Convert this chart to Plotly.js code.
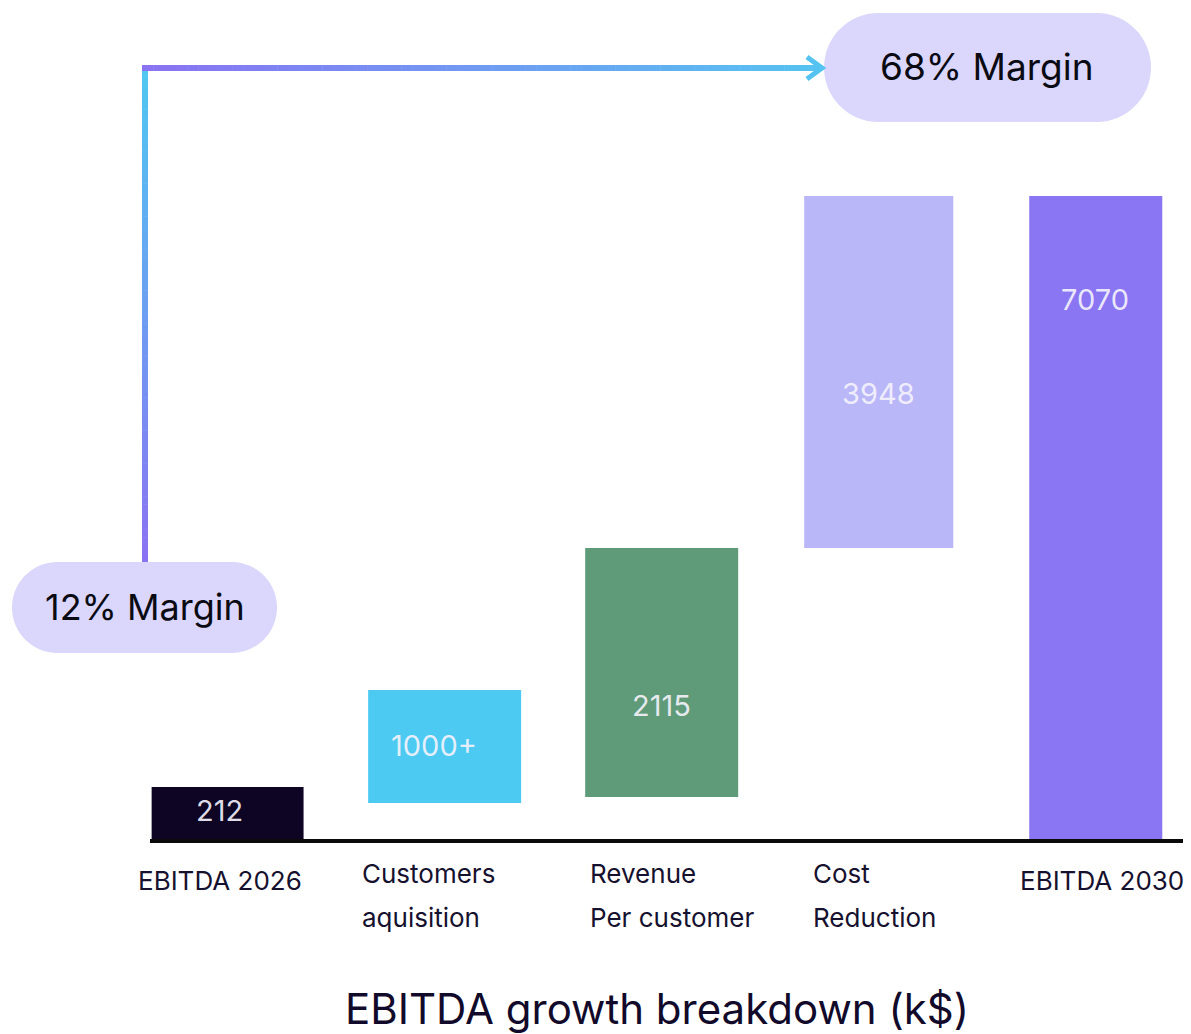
<!DOCTYPE html>
<html><head><meta charset="utf-8">
<script src="https://cdn.plot.ly/plotly-3.0.1.min.js"></script>
<style>html,body{margin:0;padding:0;background:#fff}#chart{width:1191px;height:1034px}</style>
</head><body><div id="chart"></div>
<script>
// ---- data ----
const categories = ['EBITDA 2026', 'Customers<br>aquisition', 'Revenue<br>Per customer', 'Cost<br>Reduction', 'EBITDA 2030'];
const valueLabels = ['212', '1000+', '2115', '3948', '7070'];
const barBase = [0, 417, 482, 3212, 0];
const barTop = [592, 1655, 3212, 7070, 7070];
const marginLabels = ['12% Margin', '68% Margin'];
const chartTitle = 'EBITDA growth breakdown (k$)';

// ---- styling ----
const W = 1191, H = 1034;
const FONT = 'Inter, "Open Sans", sans-serif';
const barColors = ['#0e0524', '#4ccaf2', '#5f9b78', '#bab7f9', '#8a75f2'];
const barWidths = [0.70, 0.705, 0.705, 0.687, 0.613];
const xRange = [-1.0487, 4.4388];
const yRange = [-2115.5, 9218];
const unitPx = W / (xRange[1] - xRange[0]);
const valueShift = [-8, -11, 0, 0, -1];
const valueY = [810, 745, 705, 393, 299];
const labelShift = [-16, -8, 3, 7, -11];
const PILL = '#dad6fc';

const traces = [{
  type: 'bar', x: categories, y: barTop.map((t, i) => t - barBase[i]), base: barBase,
  width: barWidths, marker: {color: barColors, line: {width: 0}},
  hoverinfo: 'none', textposition: 'none', xaxis: 'x', yaxis: 'y', showlegend: false
}, {
  type: 'scatter', x: [0], y: [0], xaxis: 'x2', yaxis: 'y2', mode: 'markers',
  marker: {opacity: 0}, hoverinfo: 'none', showlegend: false
}];

function hex2rgb(h){return [1,3,5].map(k=>parseInt(h.substr(k,2),16));}
function mix(a,b,t){const A=hex2rgb(a),B=hex2rgb(b);return 'rgb('+A.map((v,i)=>Math.round(v+(B[i]-v)*t)).join(',')+')';}
function pill(x0,y0,x1,y1){
  const r=(y1-y0)/2, k=0.5523*r;
  return `M${x0+r},${y0} L${x1-r},${y0} C${x1-r+k},${y0} ${x1},${y0+r-k} ${x1},${y0+r} C${x1},${y0+r+k} ${x1-r+k},${y1} ${x1-r},${y1} L${x0+r},${y1} C${x0+r-k},${y1} ${x0},${y0+r+k} ${x0},${y0+r} C${x0},${y0+r-k} ${x0+r-k},${y0} ${x0+r},${y0} Z`;
}

const shapes = [];
// pills
shapes.push({type:'path', xref:'x2', yref:'y2', path:pill(12,562,277,653), fillcolor:PILL, line:{width:0}, layer:'below'});
shapes.push({type:'path', xref:'x2', yref:'y2', path:pill(824,13,1151,122), fillcolor:PILL, line:{width:0}, layer:'below'});
// gradient connector
const CYAN = '#4fc8f1', PURP = '#8a72f2';
const N = 60;
for (let i=0;i<N;i++){
  const ya = 68 + (562-68)*i/N, yb = 68 + (562-68)*(i+1)/N + 0.5;
  shapes.push({type:'line', xref:'x2', yref:'y2', x0:145, x1:145, y0:ya, y1:Math.min(yb,562), line:{color:mix(CYAN,PURP,(i+0.5)/N), width:6}});
}
for (let i=0;i<N;i++){
  const xa = 142 + (818-142)*i/N, xb = 142 + (818-142)*(i+1)/N + 0.5;
  shapes.push({type:'line', xref:'x2', yref:'y2', x0:xa, x1:Math.min(xb,818), y0:68, y1:68, line:{color:mix(PURP,'#55c3f1',(i+0.5)/N), width:6}});
}
shapes.push({type:'path', xref:'x2', yref:'y2', path:'M807,57 L822,68 L807,79', line:{color:'#55c3f1', width:5}});
// baseline
shapes.push({type:'line', xref:'x2', yref:'y2', x0:150, x1:1183, y0:841, y1:841, line:{color:'#0a0a0a', width:4}});

const annotations = [];
categories.forEach((c,i)=>{
  annotations.push({xref:'x', yref:'y2', x:c, y:valueY[i], text:valueLabels[i], showarrow:false,
    xanchor:'center', yanchor:'middle', xshift:valueShift[i],
    font:{family:FONT, size:29, color:'rgba(245,243,252,0.92)'}});
  const lines = c.split('<br>');
  const half = barWidths[i]*unitPx/2;
  const ys = lines.length === 1 ? [880] : [873, 917];
  lines.forEach((ln,j)=>{
    annotations.push({xref:'x', yref:'y2', x:c, y:ys[j], text:ln, showarrow:false,
      xanchor:'left', yanchor:'middle', xshift:-half+labelShift[i],
      font:{family:FONT, size:26, color:'#16112e'}});
  });
});
annotations.push({xref:'x2', yref:'y2', x:144.5, y:607, text:marginLabels[0], showarrow:false, xanchor:'center', yanchor:'middle', font:{family:FONT, size:36, color:'#0a0a12'}});
annotations.push({xref:'x2', yref:'y2', x:987, y:66, text:marginLabels[1], showarrow:false, xanchor:'center', yanchor:'middle', font:{family:FONT, size:37, color:'#0a0a12'}});
annotations.push({xref:'x2', yref:'y2', x:657, y:1008, text:chartTitle, showarrow:false, xanchor:'center', yanchor:'middle', font:{family:FONT, size:42, color:'#120a2a'}});

const layout = {
  width: W, height: H, margin:{l:0,r:0,t:0,b:0,pad:0},
  paper_bgcolor:'#ffffff', plot_bgcolor:'#ffffff', showlegend:false,
  xaxis:{type:'category', range:xRange, visible:false, fixedrange:true},
  yaxis:{range:yRange, visible:false, fixedrange:true},
  xaxis2:{overlaying:'x', range:[0,W], visible:false, anchor:'y2', fixedrange:true},
  yaxis2:{overlaying:'y', range:[H,0], visible:false, anchor:'x2', fixedrange:true},
  bargap:0.3, shapes:shapes, annotations:annotations
};
Plotly.newPlot('chart', traces, layout, {displayModeBar:false, staticPlot:true});
</script>
</body></html>
